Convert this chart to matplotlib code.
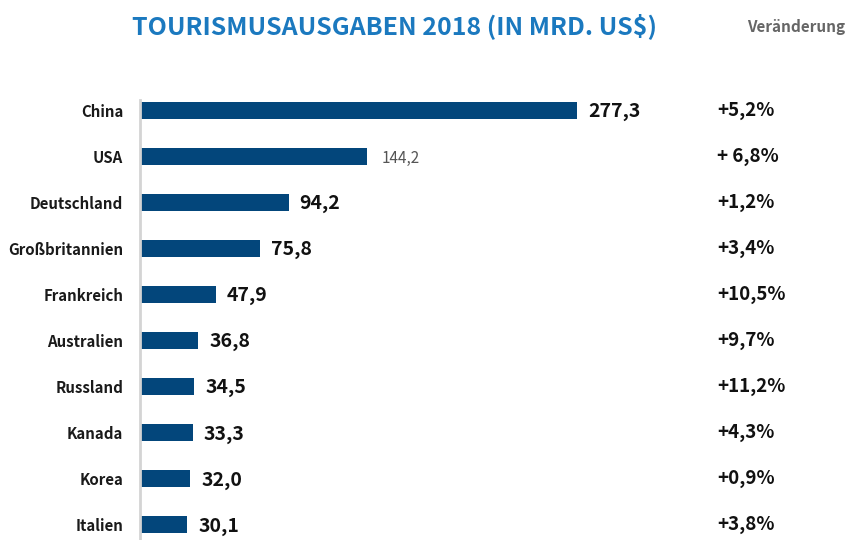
import matplotlib
matplotlib.use("Agg")
import matplotlib.pyplot as plt
from matplotlib.transforms import blended_transform_factory

plt.rcParams["font.family"] = ["Noto Sans CJK SC", "DejaVu Sans"]

# data
laender = ["China", "USA", "Deutschland", "Großbritannien", "Frankreich",
           "Australien", "Russland", "Kanada", "Korea", "Italien"]
ausgaben = [277.3, 144.2, 94.2, 75.8, 47.9, 36.8, 34.5, 33.3, 32.0, 30.1]
wert_labels = ["277,3", "144,2", "94,2", "75,8", "47,9",
               "36,8", "34,5", "33,3", "32,0", "30,1"]
veraenderung = ["+5,2%", "+ 6,8%", "+1,2%", "+3,4%", "+10,5%",
                "+9,7%", "+11,2%", "+4,3%", "+0,9%", "+3,8%"]

bar_color = "#03467b"
fig = plt.figure(figsize=(8.48, 5.40), dpi=100)
ax = fig.add_axes([140 / 848, 0, 708 / 848, 440 / 540])

pos = list(range(len(laender)))
ax.barh(pos, ausgaben, height=0.37, color=bar_color)
ax.set_xlim(0, 449)
ax.set_ylim(9.33, -0.22)

for s in ["top", "right", "bottom"]:
    ax.spines[s].set_visible(False)
ax.spines["left"].set_color("#d4d4d4")
ax.spines["left"].set_linewidth(2)
ax.set_xticks([])
ax.set_yticks(pos)
ax.set_yticklabels(laender, fontsize=10.8, fontweight="bold", color="#1a1a1a")
ax.tick_params(axis="y", length=0, pad=12)

for i, (v, lab) in enumerate(zip(ausgaben, wert_labels)):
    if i == 1:
        ax.annotate(lab, (v, i), xytext=(10, -1.5), textcoords="offset points",
                    ha="left", va="center", fontsize=11, color="#555555")
    else:
        ax.annotate(lab, (v, i), xytext=(8, -1), textcoords="offset points",
                    ha="left", va="center", fontsize=14, fontweight="bold",
                    color="#111111")

# right column: x in figure coords, y in data coords
trans = blended_transform_factory(fig.transFigure, ax.transData)
for i, t in enumerate(veraenderung):
    ax.text(717 / 848, i, t, transform=trans, ha="left", va="center",
            fontsize=13.5, fontweight="bold", color="#111111")

fig.text(395 / 848, 1 - 26 / 540, "TOURISMUSAUSGABEN 2018 (IN MRD. US$)",
         ha="center", va="center", fontsize=18, fontweight="bold",
         color="#1b79bf")
fig.text(845 / 848, 1 - 27 / 540, "Veränderung", ha="right", va="center",
         fontsize=11, fontweight="bold", color="#666666")

fig.savefig("out.png", dpi=100)
